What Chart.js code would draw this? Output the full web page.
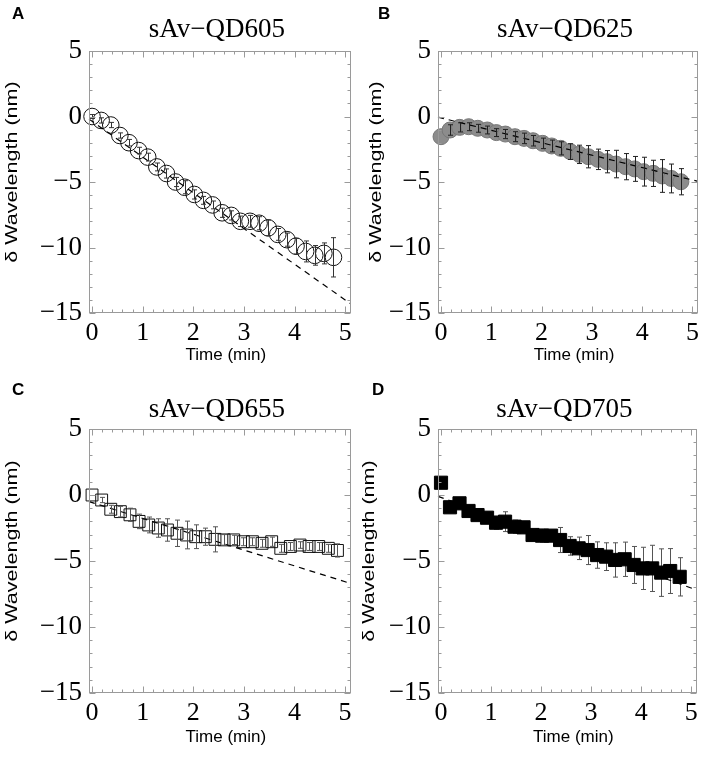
<!DOCTYPE html>
<html><head><meta charset="utf-8">
<script src="https://cdn.jsdelivr.net/npm/chart.js@4.4.0/dist/chart.umd.min.js"></script>
<style>
html,body{margin:0;padding:0;background:#fff;width:707px;height:760px;overflow:hidden}
.p{position:absolute}
</style></head><body>
<div class="p" style="left:0;top:0;width:360px;height:378px"><canvas id="cA"></canvas></div>
<div class="p" style="left:349px;top:0;width:358px;height:378px"><canvas id="cB"></canvas></div>
<div class="p" style="left:0;top:378px;width:360px;height:382px"><canvas id="cC"></canvas></div>
<div class="p" style="left:349px;top:378px;width:358px;height:382px"><canvas id="cD"></canvas></div>
<script>
// ---- data ----
const panelLetters = ['A','B','C','D'];
const panelTitles = ['sAv\u2212QD605','sAv\u2212QD625','sAv\u2212QD655','sAv\u2212QD705'];
const xTickValues = [0,1,2,3,4,5];
const yTickValues = [-15,-10,-5,0,5];
const xLabel = 'Time (min)';
const yLabel = '\u03b4 Wavelength (nm)';

const time = [0,0.18,0.37,0.55,0.73,0.92,1.10,1.28,1.47,1.65,1.83,2.02,2.20,2.38,2.57,2.75,2.93,3.12,3.30,3.48,3.67,3.85,4.03,4.22,4.40,4.58,4.77];
const timeC = [0,0.19,0.37,0.56,0.75,0.93,1.12,1.31,1.49,1.68,1.87,2.05,2.24,2.43,2.61,2.80,2.99,3.17,3.36,3.55,3.73,3.92,4.11,4.29,4.48,4.67,4.85];

const valA = [0.0,-0.3,-0.65,-1.45,-2.0,-2.6,-3.1,-3.85,-4.35,-5.0,-5.4,-5.95,-6.4,-6.75,-7.35,-7.55,-8.0,-8.0,-8.15,-8.5,-9.0,-9.4,-9.9,-10.3,-10.6,-10.45,-10.75];
const errA = [0.15,0.2,0.2,0.2,0.25,0.25,0.3,0.3,0.35,0.35,0.5,0.35,0.3,0.3,0.35,0.35,0.4,0.45,0.5,0.6,0.45,0.5,0.6,0.8,0.75,0.8,1.5];

const valB = [-1.54,-1.03,-0.83,-0.78,-0.9,-1.03,-1.23,-1.34,-1.54,-1.67,-1.85,-2.05,-2.25,-2.43,-2.68,-2.89,-3.07,-3.27,-3.45,-3.63,-3.83,-4.0,-4.21,-4.34,-4.54,-4.73,-4.98];
const errB = [0,0.4,0.35,0.3,0.3,0.3,0.3,0.35,0.38,0.4,0.4,0.4,0.45,0.5,0.6,0.7,0.85,0.78,0.85,1.05,1.0,0.95,1.1,1.0,1.25,1.1,1.0];

const valC = [0,-0.38,-1.08,-1.26,-1.5,-2.0,-2.27,-2.5,-2.65,-2.9,-3.03,-3.16,-3.16,-3.36,-3.4,-3.4,-3.54,-3.54,-3.66,-3.54,-4.04,-3.9,-3.79,-3.9,-3.9,-4.04,-4.2];
const errC = [0,0.2,0.3,0.4,0.5,0.55,0.6,0.7,0.85,1.0,1.05,0.9,0.65,0.95,0.4,0.35,0.3,0.3,0.3,0.35,0.3,0.3,0.25,0.3,0.3,0.3,0.5];

const valD = [0.93,-0.93,-0.63,-1.21,-1.52,-1.72,-2.1,-2.02,-2.4,-2.45,-3.03,-3.08,-3.08,-3.41,-3.86,-4.04,-4.17,-4.55,-4.67,-4.92,-4.87,-5.3,-5.56,-5.56,-5.88,-5.76,-6.2];
const errD = [0,0,0.3,0.3,0.3,0.4,0.5,0.75,0.5,0.4,0.3,0.5,0.3,0.95,0.7,0.85,1.1,1.0,1.05,1.3,1.3,1.4,1.6,1.75,1.8,1.7,1.45];

// dashed linear fits: end points
const fitX = [-0.06, 5.11];
const fitA = [-0.2, -14.3];
const fitB = [-0.05, -4.95];
const fitC = [-0.5, -6.7];
const fitD = [-0.1, -7.2];

// ---- plugins ----
function errPlugin(cfg){
  function draw(chart){
    const c = chart.ctx, xs = chart.scales.x, ys = chart.scales.y;
    c.save(); c.strokeStyle = cfg.errColor; c.lineWidth = 1;
    cfg.t.forEach((t,i)=>{
      const e = cfg.err[i]; if(!e) return;
      const px = Math.round(xs.getPixelForValue(t))+0.5;
      const y1 = ys.getPixelForValue(cfg.v[i]+e), y2 = ys.getPixelForValue(cfg.v[i]-e);
      c.beginPath();
      c.moveTo(px,y1); c.lineTo(px,y2);
      c.moveTo(px-2.5,y1); c.lineTo(px+2.5,y1);
      c.moveTo(px-2.5,y2); c.lineTo(px+2.5,y2);
      c.stroke();
    });
    c.restore();
  }
  return {id:'err'+cfg.id,
    beforeDatasetsDraw(chart){ if(!cfg.errOnTop) draw(chart); },
    afterDatasetsDraw(chart){ if(cfg.errOnTop) draw(chart); }};
}
const framePlugin = {id:'frame', afterDraw(chart){
  const c = chart.ctx, a = chart.chartArea, xs = chart.scales.x, ys = chart.scales.y;
  c.save(); c.strokeStyle = '#9a9a9a'; c.lineWidth = 1;
  const L = Math.round(a.left)+0.5, R = Math.round(a.right)-0.5, T = Math.round(a.top)+0.5, B = Math.round(a.bottom)-0.5;
  c.strokeRect(L,T,R-L,B-T);
  c.beginPath();
  for(let k=0;k<=25;k++){
    const v = k*0.2, len = (k%5===0)?6:3;
    const px = Math.round(xs.getPixelForValue(v))+0.5;
    c.moveTo(px,B); c.lineTo(px,B-len);
    c.moveTo(px,T); c.lineTo(px,T+len);
  }
  for(let v=-15; v<=5; v++){
    const len = (v%5===0)?6:3;
    const py = Math.round(ys.getPixelForValue(v))+0.5;
    c.moveTo(L,py); c.lineTo(L+len,py);
    c.moveTo(R,py); c.lineTo(R-len,py);
  }
  c.stroke(); c.restore();
}};
function textPlugin(cfg){
  return {id:'txt'+cfg.id, afterDraw(chart){
    const c = chart.ctx, a = chart.chartArea;
    c.save(); c.fillStyle = '#000';
    c.font = 'bold 17px "Liberation Sans", Arial, sans-serif';
    c.textAlign = 'left'; c.textBaseline = 'middle';
    c.fillText(cfg.letter, cfg.letterX, cfg.letterY);
    c.font = '27px "Liberation Serif", "Times New Roman", serif';
    c.textAlign = 'center';
    c.fillText(cfg.title, (a.left+a.right)/2 - 3, cfg.titleY);
    c.font = '17px "Liberation Sans", Arial, sans-serif';
    c.fillText(xLabel, (a.left+a.right)/2 + 6, a.bottom + cfg.xLabelDy);
    c.translate(cfg.yLabelX, (a.top+a.bottom)/2 - 10);
    c.rotate(-Math.PI/2);
    c.scale(1.27, 1);
    c.fillText(yLabel, 0, 0);
    c.restore();
  }};
}
const fmt = v => v < 0 ? '\u2212' + Math.abs(v) : String(v);

function makePanel(cfg){
  const el = document.getElementById(cfg.id);
  const W = el.parentNode.clientWidth, H = el.parentNode.clientHeight;
  return new Chart(el, {
    type: 'scatter',
    data: {datasets: [
      {type:'line', data: fitX.map((x,i)=>({x:x, y:cfg.fit[i]})), borderColor:'#000', borderWidth:1.2,
       borderDash:[6,5], pointRadius:0, fill:false, order: cfg.lineOnTop ? 0 : 2},
      {data: cfg.t.map((x,i)=>({x:x, y:cfg.v[i]})), pointStyle: cfg.style, pointRadius: cfg.r,
       backgroundColor: cfg.fill, borderColor: cfg.stroke, borderWidth: 1, pointBorderWidth: 1, order: 1}
    ]},
    options: {
      responsive: true, maintainAspectRatio: false, animation: false, clip: false,
      layout: {padding: {left: 0, top: cfg.top, right: W - cfg.right, bottom: 0}},
      plugins: {legend: {display:false}, tooltip: {enabled:false}, title: {display:false}},
      scales: {
        x: {type:'linear', min:-0.06, max:5.11, grid:{display:false, drawTicks:false}, border:{display:false},
            afterBuildTicks: s => { s.ticks = xTickValues.map(v=>({value:v})); },
            afterFit: s => { s.height = H - cfg.bottom; },
            ticks: {font:{family:'"Liberation Serif", serif', size:26}, color:'#000', padding:5, maxRotation:0, autoSkip:false, callback: fmt}},
        y: {type:'linear', min:-15, max:5, grid:{display:false, drawTicks:false}, border:{display:false},
            afterBuildTicks: s => { s.ticks = yTickValues.map(v=>({value:v})); },
            afterFit: s => { s.width = cfg.left; },
            ticks: {font:{family:'"Liberation Serif", serif', size:27}, color:'#000', padding:7, autoSkip:false, callback: fmt}}
      }
    },
    plugins: [errPlugin(cfg), framePlugin, textPlugin(cfg)]
  });
}

makePanel({id:'cA', t:time, v:valA, err:errA, fit:fitA, letter:panelLetters[0], title:panelTitles[0],
  style:'circle', r:8.3, fill:'rgba(0,0,0,0)', stroke:'#111', errColor:'#333', errOnTop:true, lineOnTop:true,
  top:51, bottom:313, left:89, right:352, letterX:12, letterY:14, titleY:30, yLabelX:12, xLabelDy:42});
makePanel({id:'cB', t:time, v:valB, err:errB, fit:fitB, letter:panelLetters[1], title:panelTitles[1],
  style:'circle', r:8, fill:'#8c8c8c', stroke:'#777', errColor:'#222', errOnTop:true, lineOnTop:true,
  top:51, bottom:313, left:89, right:353, letterX:29, letterY:14, titleY:30, yLabelX:27, xLabelDy:42});
makePanel({id:'cC', t:timeC, v:valC, err:errC, fit:fitC, letter:panelLetters[2], title:panelTitles[2],
  style:'rect', r:8.4, fill:'rgba(0,0,0,0)', stroke:'#111', errColor:'#555', errOnTop:true, lineOnTop:false,
  top:51, bottom:315, left:89, right:352, letterX:12, letterY:12, titleY:32, yLabelX:12, xLabelDy:44});
makePanel({id:'cD', t:time, v:valD, err:errD, fit:fitD, letter:panelLetters[3], title:panelTitles[3],
  style:'rect', r:9.3, fill:'#000', stroke:'#000', errColor:'#555', errOnTop:false, lineOnTop:false,
  top:51, bottom:315, left:89, right:353, letterX:23, letterY:12, titleY:32, yLabelX:20, xLabelDy:44});
</script>
</body></html>
